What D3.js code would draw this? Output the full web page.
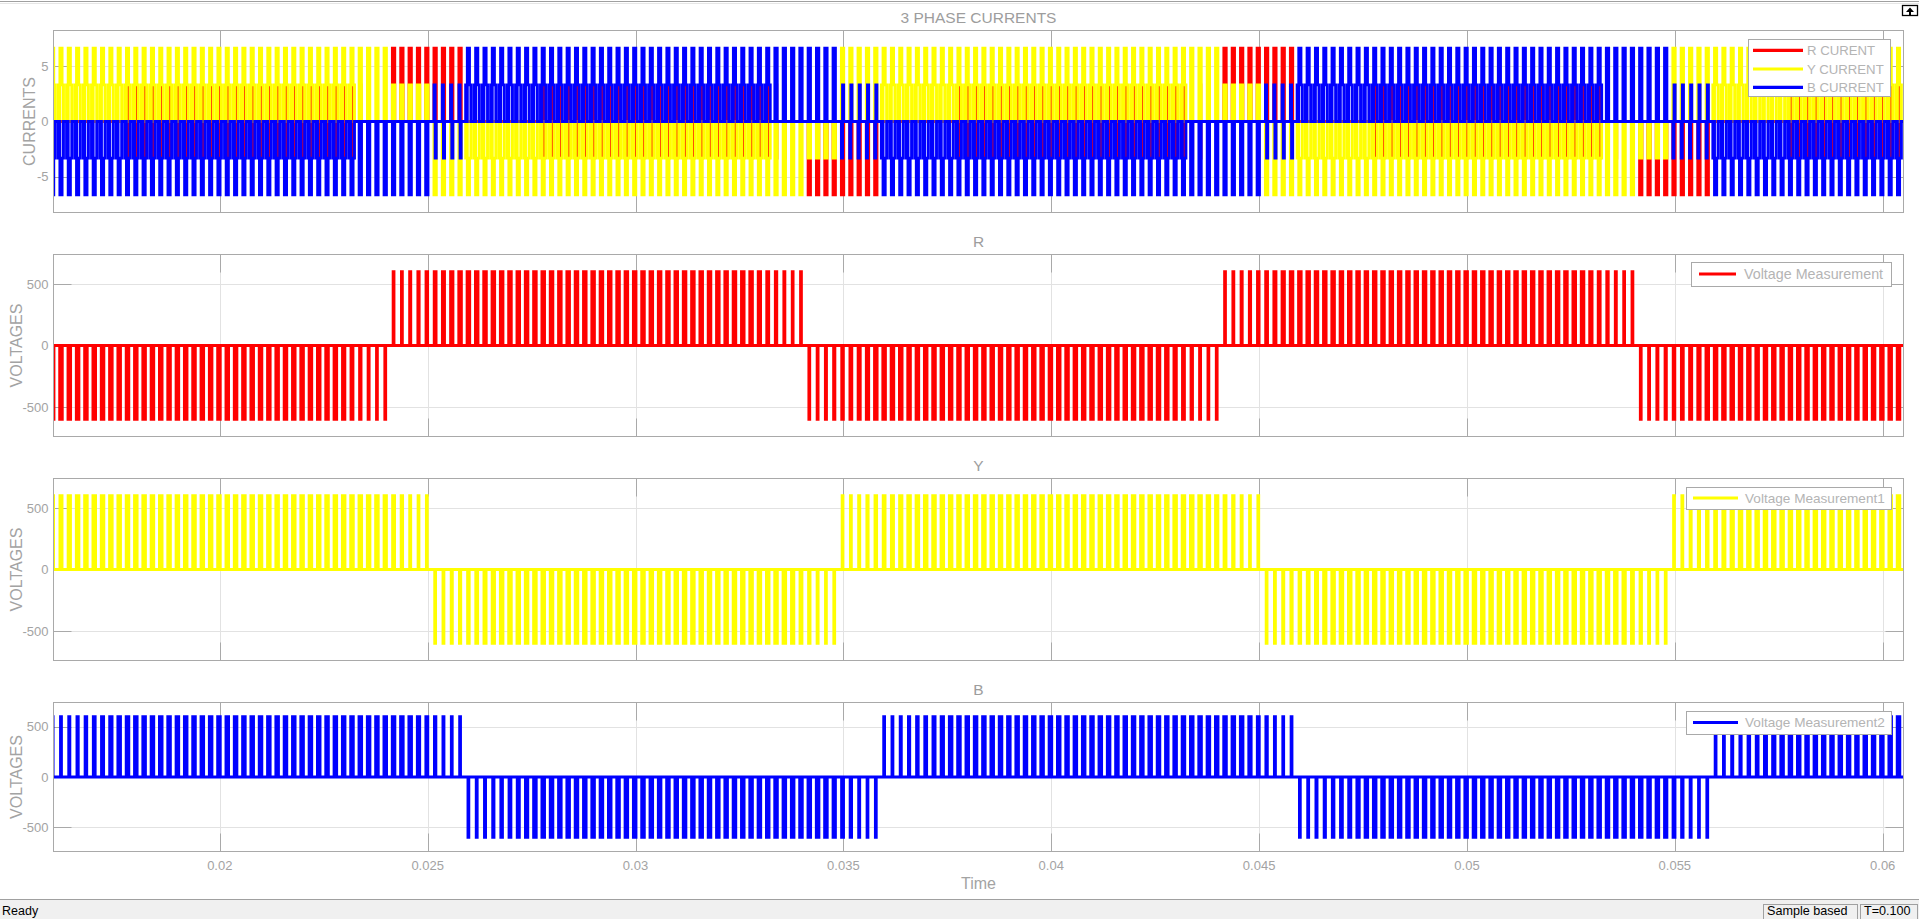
<!DOCTYPE html>
<html><head><meta charset="utf-8">
<script src="https://cdn.jsdelivr.net/npm/d3@7"></script>
<style>
html,body{margin:0;padding:0;background:#fff;overflow:hidden}
svg{display:block;font-family:"Liberation Sans",Arial,sans-serif}
</style></head><body>
<svg id="c" width="1919" height="919"></svg>
<script>
// ---------------- data ----------------
const timeDomain = [0.016, 0.0605];
const timeTicks = [0.02, 0.025, 0.03, 0.035, 0.04, 0.045, 0.05, 0.055, 0.06];
const timeTickLabels = ["0.02","0.025","0.03","0.035","0.04","0.045","0.05","0.055","0.06"];
const currentTicks = [-5, 0, 5];
const voltageTicks = [-500, 0, 500];
const currentLimit = 8.27;
const voltageLimit = 740;

const pulsePeriod = 0.0002;      // s, PWM carrier period
const pulsePhase = 0.00018;      // s, centre of first pulse in a carrier period
const voltageAmplitude = 600;

// voltage half cycles: [start, end, sign]
const rHalfCycles = [[0.0141,0.0241,-1],[0.0241,0.0341,1],[0.0341,0.0441,-1],[0.0441,0.0541,1],[0.0541,0.0641,-1]];
const yHalfCycles = [[0.0149,0.0251,1],[0.0251,0.0349,-1],[0.0349,0.0451,1],[0.0451,0.0549,-1],[0.0549,0.0651,1]];
const bHalfCycles = [[0.0159,0.0259,1],[0.0259,0.0359,-1],[0.0359,0.0459,1],[0.0459,0.0559,-1],[0.0559,0.0659,1]];
// pulse on-times (microseconds): first pulses of a half cycle, last pulses of a half cycle, the rest
const pulseWidthStartUs = [20, 22, 26, 30, 38, 44, 50, 56];
const pulseWidthEndUs = [56, 46, 34, 24, 20, 20];
const pulseWidthMidUs = 62;

// current pulse shapes: steps [offset from pulse centre in microseconds, current after the step]
const currentShapes = {
  stairUp:   [[-66, 3.33], [-30, 0], [-26, 6.67], [26, 3.33], [60, 0]],
  stairDown: [[-66, -3.33], [-30, 0], [-26, -6.67], [26, -3.33], [60, 0]],
  fullUp:    [[-28, 6.67], [28, 0]],
  fullDown:  [[-28, -6.67], [28, 0]],
  halfUp:    [[-30, 3.33], [30, 0]],
  halfDown:  [[-30, -3.33], [30, 0]],
  swingUpDown: [[-27, 3.33], [0, -3.33], [27, 0]],
  swingDownUp: [[-27, -3.33], [0, 3.33], [27, 0]],
  spike:     [[13, 3.33], [17, -3.33], [21, 0]]
};
// current segments: [start, end, shape]
const rCurrentSegments = [
  [0.0177,0.0236,"spike"],[0.0241,0.0259,"fullUp"],[0.0277,0.0336,"spike"],[0.0341,0.0359,"fullDown"],
  [0.0377,0.0436,"spike"],[0.0441,0.0459,"fullUp"],[0.0477,0.0536,"spike"],[0.0541,0.0559,"fullDown"],
  [0.0577,0.0606,"spike"]];
const yCurrentSegments = [
  [0.0159,0.0232,"stairUp"],[0.0232,0.0241,"fullUp"],[0.0241,0.0251,"halfUp"],[0.0251,0.0259,"fullDown"],
  [0.0259,0.0332,"stairDown"],[0.0332,0.0341,"fullDown"],[0.0341,0.0349,"halfDown"],[0.0349,0.0359,"fullUp"],
  [0.0359,0.0432,"stairUp"],[0.0432,0.0441,"fullUp"],[0.0441,0.0451,"halfUp"],[0.0451,0.0459,"fullDown"],
  [0.0459,0.0532,"stairDown"],[0.0532,0.0541,"fullDown"],[0.0541,0.0549,"halfDown"],[0.0549,0.0559,"fullUp"],
  [0.0559,0.0606,"stairUp"]];
const bCurrentSegments = [
  [0.0159,0.0232,"stairDown"],[0.0232,0.0251,"fullDown"],[0.0251,0.0259,"swingUpDown"],
  [0.0259,0.0332,"stairUp"],[0.0332,0.0349,"fullUp"],[0.0349,0.0359,"swingDownUp"],
  [0.0359,0.0432,"stairDown"],[0.0432,0.0451,"fullDown"],[0.0451,0.0459,"swingUpDown"],
  [0.0459,0.0532,"stairUp"],[0.0532,0.0549,"fullUp"],[0.0549,0.0559,"swingDownUp"],
  [0.0559,0.0606,"stairDown"]];

const currentLegend = ["R CURENT", "Y CURRENT", "B CURRENT"];
const voltageLegends = ["Voltage Measurement", "Voltage Measurement1", "Voltage Measurement2"];
const panelTitles = ["3 PHASE CURRENTS", "R", "Y", "B"];
const seriesColors = ["#ff0000", "#ffff00", "#0000ff"];

// ---------------- drawing ----------------
const svg = d3.select("#c");
const TXT = "#a3a3a3", AX = "#a9a9a9", GRID = "#e2e2e2";
const x = d3.scaleLinear().domain(timeDomain).range([53.5, 1903.5]);
const LW = 2.9;

function pulseCenters(a, b) {
  const out = [];
  let k = Math.ceil((a - pulsePhase) / pulsePeriod - 1e-6);
  for (;; k++) {
    const c = pulsePhase + k * pulsePeriod;
    if (c >= b - 1e-9) break;
    out.push(c);
  }
  return out;
}

function voltagePoints(halfCycles) {
  const pts = [[timeDomain[0], 0]];
  halfCycles.forEach(([s, e, sg]) => {
    const cs = pulseCenters(s, e), n = cs.length;
    cs.forEach((c, i) => {
      let w;
      const fromEnd = n - 1 - i;
      if (i < pulseWidthStartUs.length) w = pulseWidthStartUs[i];
      else if (fromEnd < pulseWidthEndUs.length) w = pulseWidthEndUs[pulseWidthEndUs.length - 1 - fromEnd];
      else w = pulseWidthMidUs;
      w *= 1e-6;
      if (c + w < timeDomain[0] || c - w > timeDomain[1] + 0.0002) return;
      pts.push([c - w / 2, 0], [c - w / 2, sg * voltageAmplitude], [c + w / 2, sg * voltageAmplitude], [c + w / 2, 0]);
    });
  });
  pts.push([timeDomain[1] + 0.0003, 0]);
  return pts;
}

function currentPoints(segments) {
  const pts = [[timeDomain[0] - 0.0002, 0]];
  segments.forEach(([s, e, shapeName]) => {
    const shape = currentShapes[shapeName];
    pulseCenters(s, e).forEach(c => {
      if (c < timeDomain[0] - 0.0002 || c > timeDomain[1] + 0.0002) return;
      let prev = 0;
      shape.forEach(([dt, lvl]) => {
        const t = c + dt * 1e-6;
        pts.push([t, prev], [t, lvl]);
        prev = lvl;
      });
    });
  });
  pts.push([timeDomain[1] + 0.0003, 0]);
  return pts;
}

const panels = [
  {top: 30.5, bottom: 212.5, lim: currentLimit, ticks: currentTicks, ylabel: "CURRENTS", ylx: 35},
  {top: 254.5, bottom: 436.5, lim: voltageLimit, ticks: voltageTicks, ylabel: "VOLTAGES", ylx: 22},
  {top: 478.5, bottom: 660.5, lim: voltageLimit, ticks: voltageTicks, ylabel: "VOLTAGES", ylx: 22},
  {top: 702.5, bottom: 851.5, lim: voltageLimit, ticks: voltageTicks, ylabel: "VOLTAGES", ylx: 22}
];

const defs = svg.append("defs");
const x0 = x.range()[0], x1 = x.range()[1];

panels.forEach((p, pi) => {
  const y = d3.scaleLinear().domain([-p.lim, p.lim]).range([p.bottom, p.top]);
  p.y = y;
  const g = svg.append("g");
  g.selectAll(".gx").data(timeTicks).join("line")
    .attr("x1", d => Math.round(x(d)) + 0.5).attr("x2", d => Math.round(x(d)) + 0.5)
    .attr("y1", p.top).attr("y2", p.bottom).attr("stroke", GRID).attr("stroke-width", 1);
  g.selectAll(".gy").data(p.ticks).join("line")
    .attr("x1", x0).attr("x2", x1)
    .attr("y1", d => Math.round(y(d)) + 0.5).attr("y2", d => Math.round(y(d)) + 0.5)
    .attr("stroke", GRID).attr("stroke-width", 1);
  const TL = 18;
  timeTicks.forEach(t => {
    const xx = Math.round(x(t)) + 0.5;
    g.append("line").attr("x1", xx).attr("x2", xx).attr("y1", p.bottom).attr("y2", p.bottom - TL).attr("stroke", AX);
    g.append("line").attr("x1", xx).attr("x2", xx).attr("y1", p.top).attr("y2", p.top + TL).attr("stroke", AX);
  });
  p.ticks.forEach(v => {
    const yy = Math.round(y(v)) + 0.5;
    g.append("line").attr("x1", x0).attr("x2", x0 + TL).attr("y1", yy).attr("y2", yy).attr("stroke", AX);
    g.append("line").attr("x1", x1).attr("x2", x1 - TL).attr("y1", yy).attr("y2", yy).attr("stroke", AX);
  });
  g.selectAll(".yl").data(p.ticks).join("text")
    .attr("x", 48.5).attr("y", d => y(d)).attr("dy", "0.36em")
    .attr("text-anchor", "end").attr("font-size", 13).attr("fill", TXT)
    .text(d => d);
  g.append("text").attr("transform", `translate(${p.ylx},${(p.top + p.bottom) / 2}) rotate(-90)`)
    .attr("text-anchor", "middle").attr("font-size", 16).attr("fill", TXT).text(p.ylabel);
  g.append("text").attr("x", (x0 + x1) / 2).attr("y", p.top - 7.5).attr("text-anchor", "middle")
    .attr("font-size", 15.5).attr("fill", "#9d9d9d").text(panelTitles[pi]);

  defs.append("clipPath").attr("id", "clip" + pi).append("rect")
    .attr("x", x0).attr("y", p.top).attr("width", x1 - x0).attr("height", p.bottom - p.top);
  p.dg = svg.append("g").attr("clip-path", `url(#clip${pi})`);
});

function drawTrace(p, pts, color) {
  const line = d3.line().x(d => x(d[0])).y(d => p.y(d[1]));
  p.dg.append("path").attr("d", line(pts)).attr("fill", "none").attr("stroke", color)
    .attr("stroke-width", LW).attr("stroke-linejoin", "miter").attr("stroke-miterlimit", 10);
}

drawTrace(panels[0], currentPoints(rCurrentSegments), seriesColors[0]);
drawTrace(panels[0], currentPoints(yCurrentSegments), seriesColors[1]);
drawTrace(panels[0], currentPoints(bCurrentSegments), seriesColors[2]);
drawTrace(panels[1], voltagePoints(rHalfCycles), seriesColors[0]);
drawTrace(panels[2], voltagePoints(yHalfCycles), seriesColors[1]);
drawTrace(panels[3], voltagePoints(bHalfCycles), seriesColors[2]);

panels.forEach(p => {
  svg.append("rect").attr("x", x0).attr("y", p.top).attr("width", x1 - x0).attr("height", p.bottom - p.top)
    .attr("fill", "none").attr("stroke", AX).attr("stroke-width", 1);
});

svg.selectAll(".xl").data(timeTicks).join("text")
  .attr("x", d => x(d)).attr("y", 869.5).attr("text-anchor", "middle")
  .attr("font-size", 13).attr("fill", TXT).text((d, i) => timeTickLabels[i]);
svg.append("text").attr("x", (x0 + x1) / 2).attr("y", 888.5).attr("text-anchor", "middle")
  .attr("font-size", 16).attr("fill", TXT).text("Time");

function legend(bx, by, bw, bh, items, colors, lineX0, lineX1, textX, rowYs, fs) {
  const g = svg.append("g");
  g.append("rect").attr("x", bx + 0.5).attr("y", by + 0.5).attr("width", bw).attr("height", bh)
    .attr("fill", "#fff").attr("stroke", AX);
  items.forEach((t, i) => {
    g.append("line").attr("x1", lineX0).attr("x2", lineX1).attr("y1", rowYs[i]).attr("y2", rowYs[i])
      .attr("stroke", colors[i]).attr("stroke-width", 3.2);
    g.append("text").attr("x", textX).attr("y", rowYs[i]).attr("dy", "0.36em")
      .attr("font-size", fs).attr("fill", "#b4b4b4").text(t);
  });
}
legend(1748, 39, 142, 57, currentLegend, seriesColors, 1753, 1803, 1807, [50.3, 69, 87.3], 13.2);
legend(1691, 262, 200, 24, [voltageLegends[0]], [seriesColors[0]], 1699, 1736, 1744, [274], 14.3);
legend(1686, 487, 205, 22, [voltageLegends[1]], [seriesColors[1]], 1693, 1738, 1745, [498], 13.6);
legend(1686, 711, 205, 23, [voltageLegends[2]], [seriesColors[2]], 1693, 1738, 1745, [722.5], 13.6);

svg.append("line").attr("x1", 0).attr("x2", 1919).attr("y1", 1.5).attr("y2", 1.5).attr("stroke", "#a0a0a0");
svg.append("line").attr("x1", 0).attr("x2", 1919).attr("y1", 3.5).attr("y2", 3.5).attr("stroke", "#e6e6e6");
const ic = svg.append("g");
ic.append("rect").attr("x", 1902.5).attr("y", 5.5).attr("width", 15).attr("height", 10).attr("fill", "#fff").attr("stroke", "#000").attr("stroke-width", 1.3);
ic.append("path").attr("d", "M1906,12 L1910,7.5 L1914,12 Z M1909,12 h2 v3 h-2 Z").attr("fill", "#000");

svg.append("rect").attr("x", 0).attr("y", 899).attr("width", 1919).attr("height", 20).attr("fill", "#f0f0f0");
svg.append("line").attr("x1", 0).attr("x2", 1919).attr("y1", 899.5).attr("y2", 899.5).attr("stroke", "#a0a0a0");
svg.append("text").attr("x", 2).attr("y", 915).attr("font-size", 12.5).attr("fill", "#000").text("Ready");
function statusBox(bx, bw, label) {
  svg.append("rect").attr("x", bx + 0.5).attr("y", 904.5).attr("width", bw).attr("height", 20).attr("fill", "#f0f0f0").attr("stroke", "#a0a0a0");
  svg.append("text").attr("x", bx + 4).attr("y", 915).attr("font-size", 12.6).attr("fill", "#000").text(label);
}
statusBox(1763, 94, "Sample based");
statusBox(1860, 57, "T=0.100");
</script>
</body></html>
